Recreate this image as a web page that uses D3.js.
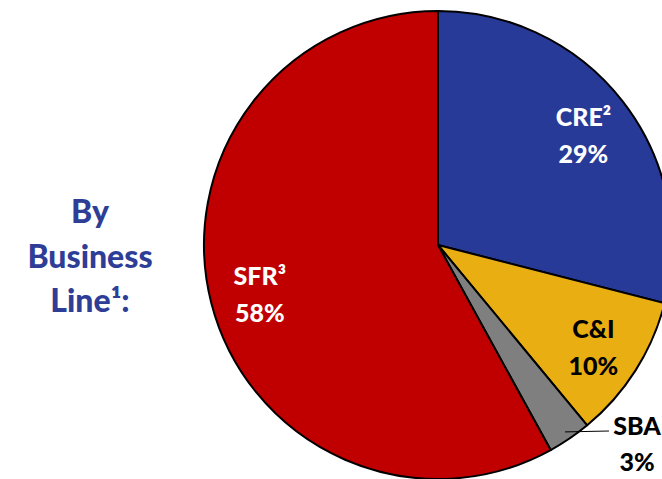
<!DOCTYPE html>
<html>
<head>
<meta charset="utf-8">
<script src="https://cdn.jsdelivr.net/npm/d3@7"></script>
<style>
  body { margin: 0; background: #fff; }
  svg { display: block; }
</style>
</head>
<body>
<script>
const width = 662;
const height = 479;

// business line mix
const labels = ["CRE²", "C&I", "SBA", "SFR³"];
const shares = [29, 10, 3, 58];
const colors = ["#283a97", "#e8ae12", "#7f7f7f", "#c00000"];
const textColors = ["#fff", "#000", "#000", "#fff"];

const data = labels.map((l, i) => ({ label: l, value: shares[i], color: colors[i], text: textColors[i] }));

const cx = 438, cy = 245, radius = 234;

const svg = d3.select("body").append("svg")
    .attr("width", width)
    .attr("height", height)
    .style("font-family", "Lato, 'Open Sans', sans-serif")
    .style("font-weight", "900");

const pie = d3.pie().sort(null).value(d => d.value);
const arcs = pie(data);

const arc = d3.arc().innerRadius(0).outerRadius(radius);
const labelArc = d3.arc().innerRadius(184).outerRadius(184);

const g = svg.append("g").attr("transform", `translate(${cx},${cy})`);

g.selectAll("path")
  .data(arcs)
  .enter()
  .append("path")
    .attr("d", arc)
    .attr("fill", d => d.data.color)
    .attr("stroke", "#000")
    .attr("stroke-width", 2)
    .attr("stroke-linejoin", "round");

// in-slice labels (all but SBA)
const inner = arcs.filter(d => d.data.label !== "SBA");
const lt = g.selectAll("text.inner")
  .data(inner)
  .enter()
  .append("text")
    .attr("class", "inner")
    .attr("text-anchor", "middle")
    .attr("fill", d => d.data.text)
    .style("font-size", "25px")
    .attr("transform", d => {
      const [x, y] = labelArc.centroid(d);
      return `translate(${x},${y})`;
    });
lt.append("tspan").attr("x", 0).attr("y", -6).text(d => d.data.label);
lt.append("tspan").attr("x", 0).attr("y", 31).text(d => d.data.value + "%");

// SBA label with leader line
const sba = arcs.find(d => d.data.label === "SBA");
const mid = (sba.startAngle + sba.endAngle) / 2;
const p0 = [Math.sin(mid) * (radius - 8), -Math.cos(mid) * (radius - 8)];
const p1 = [171, 186];
g.append("polyline")
  .attr("points", [p0, p1].map(p => p.join(",")).join(" "))
  .attr("fill", "none")
  .attr("stroke", "#000")
  .attr("stroke-width", 1);
const st = g.append("text")
  .attr("text-anchor", "middle")
  .attr("fill", "#000")
  .style("font-size", "25px")
  .attr("transform", `translate(199,0)`);
st.append("tspan").attr("x", 0).attr("y", 190).text(sba.data.label);
st.append("tspan").attr("x", 0).attr("y", 226).text(sba.data.value + "%");

// side title
const title = ["By", "Business", "Line¹:"];
svg.append("g")
  .selectAll("text")
  .data(title)
  .enter()
  .append("text")
    .attr("x", 90)
    .attr("y", (d, i) => 223 + i * 44.5)
    .attr("text-anchor", "middle")
    .attr("fill", "#2e3d96")
    .style("font-size", "32px")
    .text(d => d);
</script>
</body>
</html>
